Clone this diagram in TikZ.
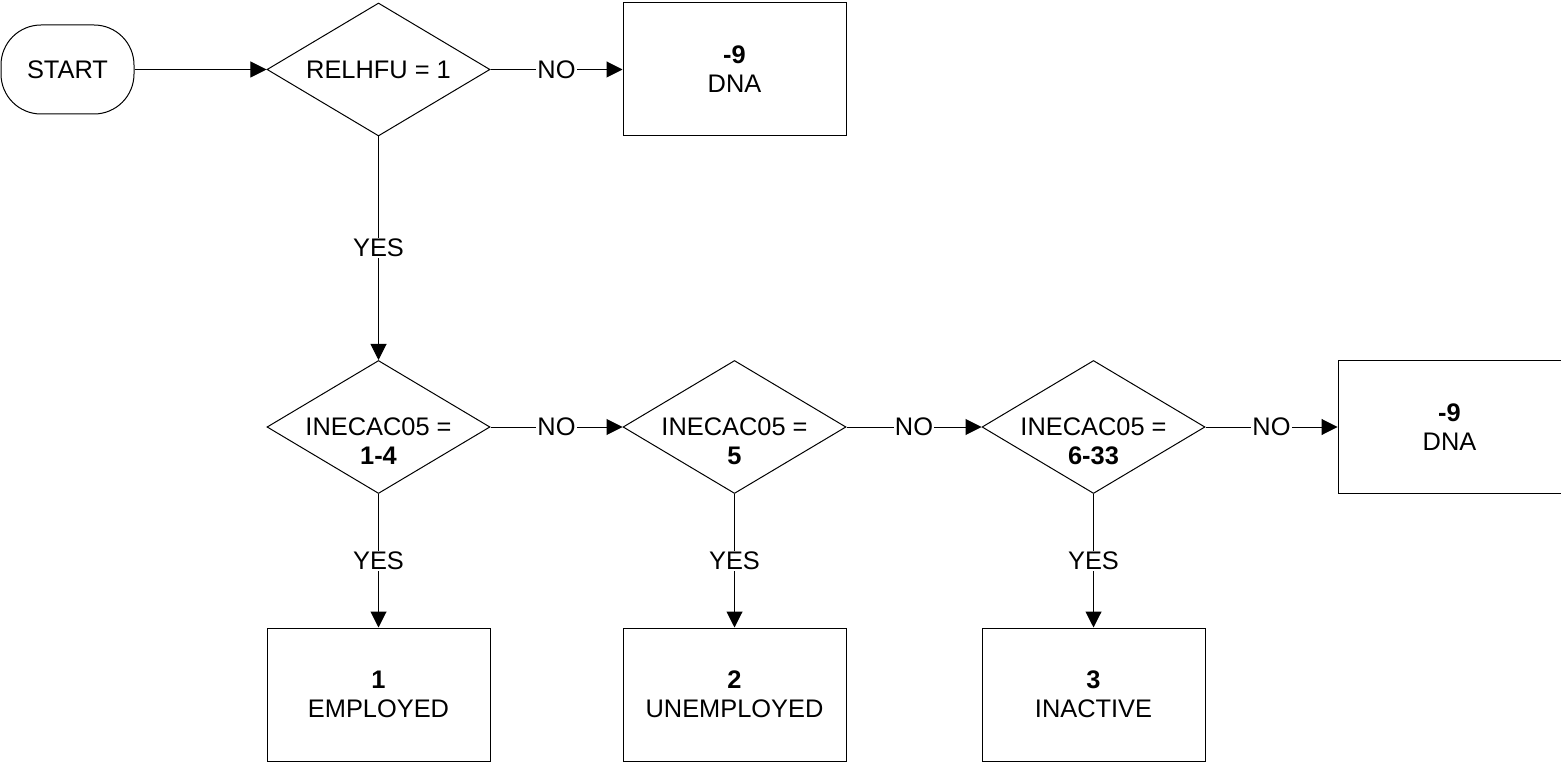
\documentclass[tikz,border=0pt]{standalone}
\usepackage{fontspec}
\setmainfont{Liberation Sans}
\usetikzlibrary{shapes.geometric,arrows.meta}

\begin{document}
\begin{tikzpicture}[x=0.5pt, y=-0.5pt, line width=0.5pt,
  every node/.style={font=\fontsize{12.7pt}{14.5pt}\selectfont},
  terminal/.style={draw, rectangle, rounded corners=20pt, minimum width=66.5pt, minimum height=44.5pt},
  decision/.style={draw, diamond, minimum width=111.5pt, minimum height=66.5pt, inner sep=0pt},
  outbox/.style={draw, rectangle, minimum width=111.5pt, minimum height=66.5pt, align=center},
  flow/.style={-{Triangle[length=8pt,width=8pt]}},
  answer/.style={fill=white, inner sep=0.5pt}]

\useasboundingbox (0,0) rectangle (1561,764);

\node[terminal] (start) at (67.5,69.5) {START};

\node[decision, label={center:RELHFU = 1}] (relhfu) at (378.5,69.5) {};
\node[outbox] (dnaA) at (734.5,69.5) {\textbf{-9}\\DNA};

\node[decision, label={[align=center, yshift=-7.25pt]center:INECAC05 =\\\textbf{1-4}}] (ineA) at (378.5,427) {};
\node[decision, label={[align=center, yshift=-7.25pt]center:INECAC05 =\\\textbf{5}}] (ineB) at (734.5,427) {};
\node[decision, label={[align=center, yshift=-7.25pt]center:INECAC05 =\\\textbf{6-33}}] (ineC) at (1093.5,427) {};
\node[outbox] (dnaB) at (1449.5,427) {\textbf{-9}\\DNA};

\node[outbox] (employed) at (378.5,694.5) {\textbf{1}\\EMPLOYED};
\node[outbox] (unemployed) at (734.5,694.5) {\textbf{2}\\UNEMPLOYED};
\node[outbox] (inactive) at (1093.5,694.5) {\textbf{3}\\INACTIVE};

\draw[flow] (start) -- (relhfu);
\draw[flow] (relhfu) -- node[answer] {NO} (dnaA);
\draw[flow] (relhfu) -- node[answer] {YES} (ineA);

\draw[flow] (ineA) -- node[answer] {NO} (ineB);
\draw[flow] (ineB) -- node[answer] {NO} (ineC);
\draw[flow] (ineC) -- node[answer] {NO} (dnaB);

\draw[flow] (ineA) -- node[answer] {YES} (employed);
\draw[flow] (ineB) -- node[answer] {YES} (unemployed);
\draw[flow] (ineC) -- node[answer] {YES} (inactive);
\end{tikzpicture}
\end{document}
